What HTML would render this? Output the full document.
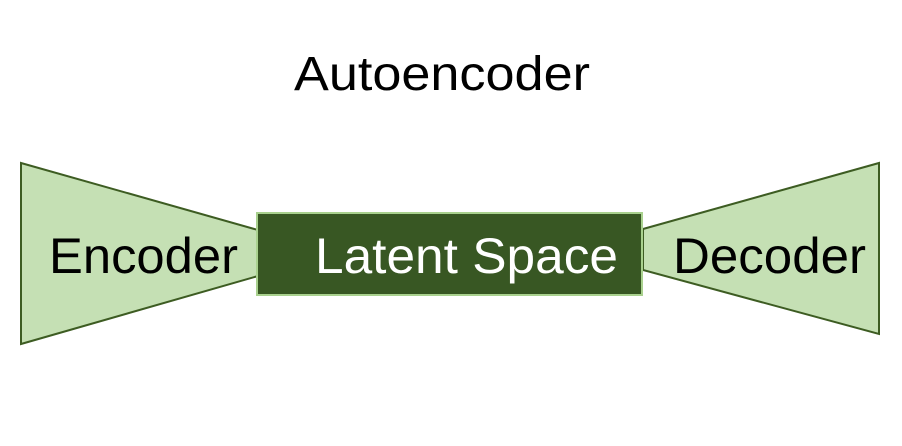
<!DOCTYPE html>
<html><head><style>body{margin:0;background:#fff;}svg{display:block}</style></head><body>
<svg width="902" height="446" xmlns="http://www.w3.org/2000/svg" font-family="Liberation Sans, Arial, sans-serif">
<text x="294" y="90" font-size="48" textLength="296" lengthAdjust="spacingAndGlyphs" fill="#000">Autoencoder</text>
<polygon points="21,163 258,230 258,276 21,344" fill="#c5e0b4" stroke="#3d5c22" stroke-width="2"/>
<polygon points="643,229 879,163 879,334 643,270" fill="#c5e0b4" stroke="#3d5c22" stroke-width="2"/>
<rect x="257" y="213" width="385" height="82" fill="#385723" stroke="#a9d18e" stroke-width="2"/>
<text x="49" y="273" font-size="50" textLength="189" lengthAdjust="spacingAndGlyphs" fill="#000">Encoder</text>
<text x="315" y="273" font-size="50" textLength="303" lengthAdjust="spacingAndGlyphs" fill="#fff">Latent Space</text>
<text x="673" y="273" font-size="50" textLength="193" lengthAdjust="spacingAndGlyphs" fill="#000">Decoder</text>
</svg>
</body></html>
